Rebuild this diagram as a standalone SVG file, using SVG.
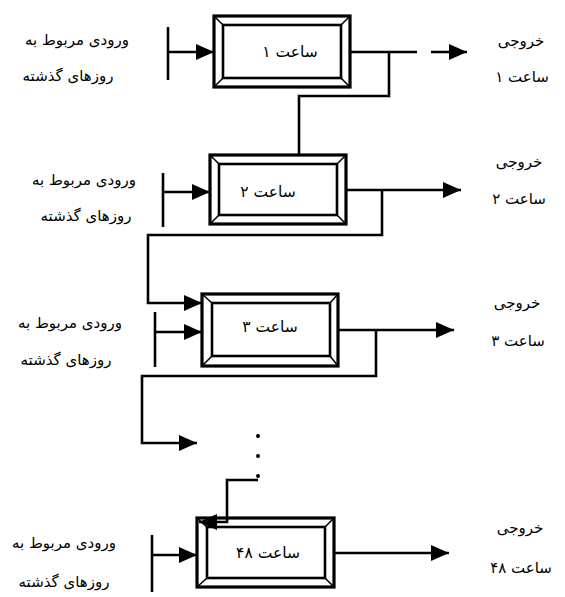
<svg xmlns="http://www.w3.org/2000/svg" width="565" height="597" viewBox="0 0 565 597">
  <style>
    .outer { fill: #fff; stroke: #000; stroke-width: 3.2; }
    .inner { fill: #fff; stroke: #000; stroke-width: 2.6; }
    .bevel { stroke: #000; stroke-width: 1.5; }
    .wire { fill: none; stroke: #000; stroke-width: 2.6; }
    .arrow { marker-end: url(#head); }
    .lbl { font-family: "DejaVu Sans", "Noto Sans", sans-serif; font-size: 15px; fill: #000; text-anchor: middle; direction: rtl; }
    .box-lbl { font-size: 15.5px; }
    .dot { fill: #000; }
  </style>
  <defs>
    <marker id="head" markerUnits="userSpaceOnUse" markerWidth="20" markerHeight="16" refX="18" refY="8" orient="auto">
      <path d="M0,0 L18,8 L0,16 Z" fill="#000"/>
    </marker>
  </defs>

  <!-- hour blocks -->
  <g id="hour1">
    <rect class="outer" x="214" y="16" width="136" height="71"/>
    <rect class="inner" x="223" y="25" width="118" height="53"/>
    <path class="bevel" d="M214,16 L223,25 M350,16 L341,25 M214,87 L223,78 M350,87 L341,78"/>
    <text class="lbl box-lbl" x="290" y="57">ساعت ۱</text>
  </g>
  <g id="hour2">
    <rect class="outer" x="210" y="155" width="136" height="69"/>
    <rect class="inner" x="219" y="164" width="118" height="51"/>
    <path class="bevel" d="M210,155 L219,164 M346,155 L337,164 M210,224 L219,215 M346,224 L337,215"/>
    <text class="lbl box-lbl" x="268" y="197">ساعت ۲</text>
  </g>
  <g id="hour3">
    <rect class="outer" x="202" y="294" width="136" height="72"/>
    <rect class="inner" x="212" y="303" width="118" height="53"/>
    <path class="bevel" d="M202,294 L212,303 M338,294 L330,303 M202,366 L212,356 M338,366 L330,356"/>
    <text class="lbl box-lbl" x="270" y="332">ساعت ۳</text>
  </g>
  <g id="hour48">
    <rect class="outer" x="197" y="518" width="137" height="69"/>
    <rect class="inner" x="207" y="527" width="118" height="51"/>
    <path class="bevel" d="M197,518 L207,527 M334,518 L325,527 M197,587 L207,578 M334,587 L325,578"/>
    <text class="lbl box-lbl" x="268" y="558">ساعت ۴۸</text>
  </g>

  <!-- input labels -->
  <g id="input1">
    <text class="lbl" x="77" y="45">ورودی مربوط به</text>
    <text class="lbl" x="68" y="81">روزهای گذشته</text>
  </g>
  <g id="input2">
    <text class="lbl" x="84" y="185">ورودی مربوط به</text>
    <text class="lbl" x="86" y="221">روزهای گذشته</text>
  </g>
  <g id="input3">
    <text class="lbl" x="70" y="328">ورودی مربوط به</text>
    <text class="lbl" x="66" y="365">روزهای گذشته</text>
  </g>
  <g id="input48">
    <text class="lbl" x="64" y="548">ورودی مربوط به</text>
    <text class="lbl" x="64" y="587">روزهای گذشته</text>
  </g>

  <!-- output labels -->
  <g id="output1">
    <text class="lbl" x="521" y="46">خروجی</text>
    <text class="lbl" x="522" y="82">ساعت ۱</text>
  </g>
  <g id="output2">
    <text class="lbl" x="519" y="167">خروجی</text>
    <text class="lbl" x="519" y="204">ساعت ۲</text>
  </g>
  <g id="output3">
    <text class="lbl" x="517" y="308">خروجی</text>
    <text class="lbl" x="518" y="346">ساعت ۳</text>
  </g>
  <g id="output48">
    <text class="lbl" x="520" y="533">خروجی</text>
    <text class="lbl" x="521" y="573">ساعت ۴۸</text>
  </g>

  <!-- continuation dots -->
  <g id="ellipsis">
    <circle class="dot" cx="258" cy="436" r="2"/>
    <circle class="dot" cx="258" cy="456" r="2"/>
    <circle class="dot" cx="258" cy="476" r="2"/>
  </g>

  <!-- connectors -->
  <g id="connectors">
    <!-- input bars -->
    <path class="wire" d="M168,27 V80"/>
    <path class="wire arrow" d="M168,52 H214"/>
    <path class="wire" d="M163,173 V227"/>
    <path class="wire arrow" d="M163,192 H210"/>
    <path class="wire" d="M155,312 V367"/>
    <path class="wire arrow" d="M155,332 H202"/>
    <path class="wire" d="M152,535 V592"/>
    <path class="wire arrow" d="M152,555 H197"/>

    <!-- outputs -->
    <path class="wire" d="M350,52 H417"/>
    <path class="wire arrow" d="M431,52 H467"/>
    <path class="wire arrow" d="M346,190 H461"/>
    <path class="wire arrow" d="M338,330 H454"/>
    <path class="wire arrow" d="M334,553 H449"/>

    <!-- feedback between hours -->
    <path class="wire" d="M389,52 V96 H299 V155"/>
    <path class="wire arrow" d="M382,190 V235 H148 V303 H202"/>
    <path class="wire arrow" d="M376,330 V376 H142 V443 H197"/>
    <path class="wire arrow" d="M258,480 H227 V522 H199"/>
  </g>
</svg>
